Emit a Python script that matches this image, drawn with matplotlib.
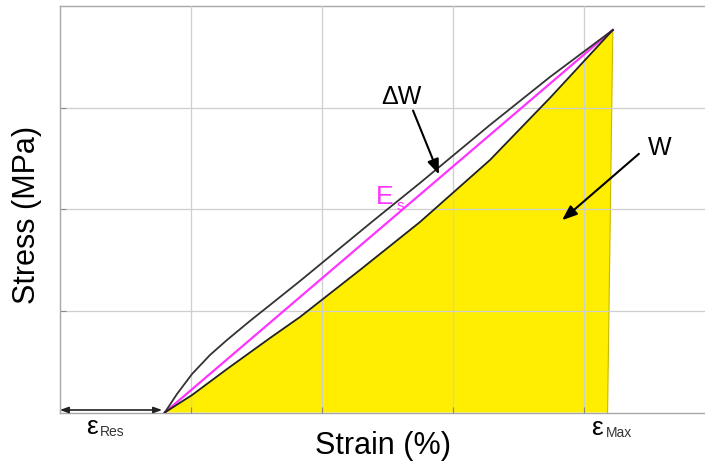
import matplotlib
matplotlib.use("Agg")
import matplotlib.pyplot as plt
import numpy as np

plt.rcParams['font.family'] = ['Liberation Sans', 'DejaVu Sans']

# ---- data ----
eps_res = 0.80
eps_max = 4.22
sigma_max = 3.765
eps_drop_end = 4.18

upper_x = [0.80, 0.893, 1.008, 1.145, 1.275, 1.450, 1.603, 1.832, 2.389, 2.748, 3.282, 3.740, 4.22]
upper_y = [0.00, 0.182, 0.379, 0.566, 0.714, 0.901, 1.058, 1.294, 1.885, 2.259, 2.830, 3.302, 3.765]
lower_x = [0.80, 0.901, 1.008, 1.275, 1.603, 1.832, 2.290, 2.748, 3.282, 3.740, 4.22]
lower_y = [0.00, 0.084, 0.172, 0.428, 0.733, 0.940, 1.403, 1.875, 2.485, 3.096, 3.765]

x_grid = [1, 2, 3, 4]
y_grid = [1, 2, 3]

W, H = 705, 465
fig = plt.figure(figsize=(W / 100, H / 100), dpi=100)
ax = fig.add_axes([60 / W, (H - 412.5) / H, 655 / W, 406.4 / H])
ax.set_xlim(0, 5)
ax.set_ylim(0, 4)

# yellow area under the lower curve
fx = [eps_res] + lower_x[1:] + [eps_drop_end]
fy = [0.0] + lower_y[1:] + [0.0]
ax.fill(fx, fy, color='#FFEE00', zorder=1, lw=0)
ax.plot([eps_max, eps_drop_end], [sigma_max, 0], color='#C8B800', lw=0.8, zorder=2)

# grid
ax.set_xticks(x_grid)
ax.set_yticks(y_grid)
ax.grid(True, color='#cfcfcf', lw=0.9, zorder=1.5)
ax.set_axisbelow(False)
ax.tick_params(direction='in', length=4, color='#888888', labelbottom=False, labelleft=False)
for s in ['left', 'top', 'bottom', 'right']:
    ax.spines[s].set_color('#a8a8a8')
    ax.spines[s].set_linewidth(1.0)

# curves
ax.plot([eps_res, eps_max], [0, sigma_max], color='#FF33FF', lw=1.6, zorder=3)
ax.plot(upper_x, upper_y, color='#333333', lw=1.3, zorder=4, solid_joinstyle='round')
ax.plot(lower_x, lower_y, color='#222222', lw=1.3, zorder=4, solid_joinstyle='round')


def d(px, py):
    return ((px - 60) / 131.0, (412.5 - py) / 101.6)


# annotations
ax.annotate('', xy=d(440, 177), xytext=d(412, 108),
            arrowprops=dict(arrowstyle='-|>,head_length=0.9,head_width=0.35', color='black', lw=1.5),
            zorder=6)
ax.text(*d(401, 97), 'ΔW', fontsize=18, ha='center', va='center', zorder=6)
ax.annotate('', xy=d(560, 222), xytext=d(641, 152),
            arrowprops=dict(arrowstyle='-|>,head_length=0.9,head_width=0.35', color='black', lw=1.5),
            zorder=6)
ax.text(*d(660, 148), 'W', fontsize=18, ha='center', va='center', zorder=6)
ax.text(*d(385, 197), 'E', fontsize=19, ha='center', va='center', color='#FF33FF', zorder=6)
ax.text(*d(400, 206), 's', fontsize=11, ha='center', va='center', color='#FF33FF', zorder=6)

# residual strain double arrow
ax.annotate('', xy=d(57, 410), xytext=d(165, 410),
            arrowprops=dict(arrowstyle='<|-|>,head_length=0.5,head_width=0.18', color='#222222', lw=1.2),
            zorder=6, annotation_clip=False)

fig.text(92 / W, 1 - 427 / H, 'ε', fontsize=19, ha='center', va='center')
fig.text(112 / W, 1 - 432 / H, 'Res', fontsize=10, ha='center', va='center', color='#333333')
fig.text(597 / W, 1 - 428 / H, 'ε', fontsize=19, ha='center', va='center')
fig.text(619 / W, 1 - 433 / H, 'Max', fontsize=10, ha='center', va='center', color='#333333')

fig.text(383 / W, 1 - 446 / H, 'Strain (%)', fontsize=22, ha='center', va='center')
fig.text(27 / W, 1 - 215 / H, 'Stress (MPa)', fontsize=22, ha='center', va='center', rotation=90)

fig.savefig('out.png', dpi=100)
